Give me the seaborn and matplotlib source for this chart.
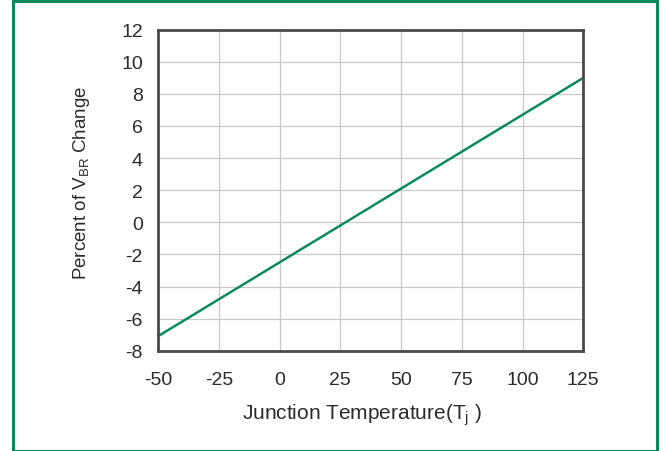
import matplotlib
matplotlib.use("Agg")
import matplotlib.pyplot as plt
import seaborn as sns
import pandas as pd
from matplotlib.patches import Rectangle

# Data
temperature = [-50, 125]
vbr_change = [-7.1, 9.0]
x_ticks = [-50, -25, 0, 25, 50, 75, 100, 125]
y_ticks = [-8, -6, -4, -2, 0, 2, 4, 6, 8, 10, 12]

sns.set_theme(style="white")
plt.rcParams['font.family'] = ['Liberation Sans', 'DejaVu Sans']
plt.rcParams['mathtext.fontset'] = 'custom'
plt.rcParams['mathtext.rm'] = 'Liberation Sans'
plt.rcParams['mathtext.it'] = 'Liberation Sans'
plt.rcParams['axes.unicode_minus'] = False

GREEN = '#0d8a5c'
TEXT = '#2b2b2b'

fig = plt.figure(figsize=(6.62, 4.52), dpi=100)
ax = fig.add_axes([158/662, 1 - 351.7/452, (583.3 - 158)/662, (351.7 - 30.7)/452])

df = pd.DataFrame({"T": temperature, "V": vbr_change})
sns.lineplot(data=df, x="T", y="V", ax=ax, color=GREEN, linewidth=1.8)

ax.set_xlim(-50, 125)
ax.set_ylim(-8, 12)
ax.set_xticks(x_ticks)
ax.set_yticks(y_ticks)
ax.grid(True, color='#c8c8c8', linewidth=0.9)
ax.set_axisbelow(True)
for s in ax.spines.values():
    s.set_color('#4a4a4a')
    s.set_linewidth(2.0)
    s.set_visible(True)
ax.tick_params(axis='both', which='major', direction='out', length=4.3, width=0.9,
               color='#b0b0b0', labelsize=14, labelcolor=TEXT)
ax.tick_params(axis='x', pad=10)
ax.tick_params(axis='y', pad=6.5)

ax.set_xlabel(r'Junction Temperature(T$_{\mathregular{j}}$ )', fontsize=15, color=TEXT)
ax.set_ylabel(r'Percent of V$_{\mathregular{BR}}$ Change', fontsize=13.5, color=TEXT)
ax.xaxis.set_label_coords(0.48, -0.158)
ax.yaxis.set_label_coords(-0.155, 0.525)

# green frame
fig.patches.append(Rectangle((12.5/662, 0.5/452), (656.5 - 12.5)/662, (450 - 0.5)/452,
                             transform=fig.transFigure, fill=False,
                             edgecolor=GREEN, linewidth=2.2, zorder=10))

fig.savefig("out.png", dpi=100)
